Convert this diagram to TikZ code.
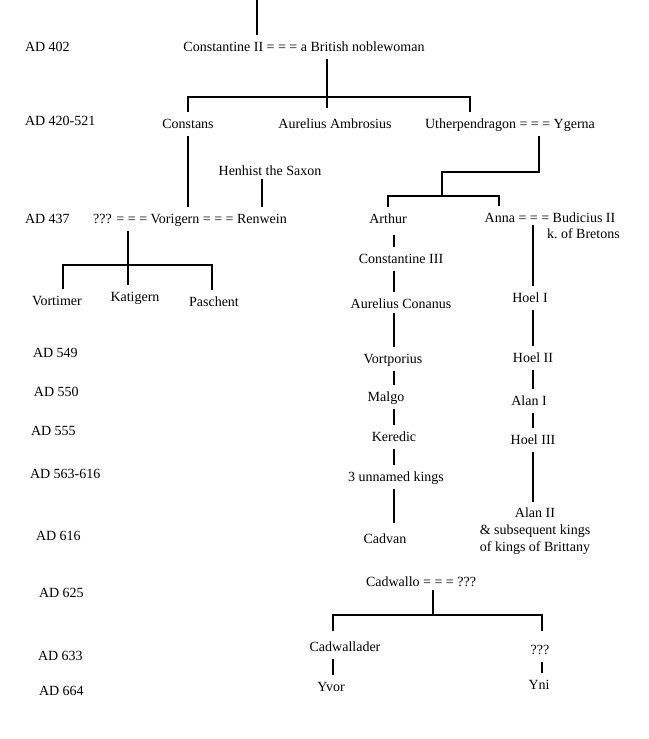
\documentclass[tikz,border=0pt]{standalone}
\usepackage{fontspec}
\setmainfont{Liberation Serif}
\begin{document}
\begin{tikzpicture}[x=1pt,y=-1pt,
  txt/.style={inner sep=0pt, outer sep=0pt, text height=11.5pt, text depth=3pt, minimum height=24pt, font=\fontsize{14}{17}\selectfont},
  datelab/.style={txt, anchor=west},
  multi/.style={inner sep=0pt, outer sep=0pt, align=center, font=\fontsize{14}{17}\selectfont},
  link/.style={draw=black, line width=1.1pt}]
\fill[white] (0,0) rectangle (648,739);
\useasboundingbox (0,0) rectangle (648,739);

% date labels
\node[datelab] (ad402) at (25,47) {AD 402};
\node[datelab] (ad420) at (25,121) {AD 420-521};
\node[datelab] (ad437) at (25,219) {AD 437};
\node[datelab] (ad549) at (33,353) {AD 549};
\node[datelab] (ad550) at (34,392) {AD 550};
\node[datelab] (ad555) at (31,431) {AD 555};
\node[datelab] (ad563) at (30,474) {AD 563-616};
\node[datelab] (ad616) at (36,536) {AD 616};
\node[datelab] (ad625) at (39,593) {AD 625};
\node[datelab] (ad633) at (38,656) {AD 633};
\node[datelab] (ad664) at (39,691) {AD 664};

% people
\node[txt] (c2) at (304,47) {Constantine II = = = a British noblewoman};
\node[txt] (constans) at (188,124) {Constans};
\node[txt] (aurelius) at (335,124) {Aurelius Ambrosius};
\node[txt] (uther) at (510,124) {Utherpendragon = = = Ygerna};
\node[txt] (henhist) at (270,171) {Henhist the Saxon};
\node[txt] (vorigern) at (190,219) {??? = = = Vorigern = = = Renwein};
\node[txt] (arthur) at (388,219) {Arthur};
\node[txt] (anna) at (550,218) {Anna = = = Budicius II};
\node[datelab] (kbretons) at (547,234) {k.\ of Bretons};
\node[txt] (c3) at (401,259) {Constantine III};
\node[txt] (vortimer) at (57,301) {Vortimer};
\node[txt] (katigern) at (135,297) {Katigern};
\node[txt] (paschent) at (214,302) {Paschent};
\node[txt] (conanus) at (401,304) {Aurelius Conanus};
\node[txt] (hoel1) at (530,298) {Hoel I};
\node[txt] (vortporius) at (393,359) {Vortporius};
\node[txt] (hoel2) at (533,358) {Hoel II};
\node[txt] (malgo) at (386,397) {Malgo};
\node[txt] (alan1) at (529,401) {Alan I};
\node[txt] (keredic) at (394,437) {Keredic};
\node[txt] (hoel3) at (533,440) {Hoel III};
\node[txt] (unnamed) at (396,477) {3 unnamed kings};
\node[multi] (alan2) at (535,531) {Alan II\\\& subsequent kings\\of kings of Brittany};
\node[txt] (cadvan) at (385,539) {Cadvan};
\node[txt] (cadwallo) at (421,582) {Cadwallo = = = ???};
\node[txt] (cadwallader) at (345,647) {Cadwallader};
\node[txt] (q3) at (540,650) {???};
\node[txt] (yvor) at (331,687) {Yvor};
\node[txt] (yni) at (539,685) {Yni};

% junction coordinates
\coordinate (topc) at (257,0);
\coordinate (c2j) at (327,97);
\coordinate (c2r) at (470,97);
\coordinate (hx) at (262,0);
\coordinate (yg) at (539,172);
\coordinate (yj) at (442,172);
\coordinate (sib) at (442,196);
\coordinate (ar) at (499,196);
\coordinate (sj) at (128,265);
\coordinate (sl) at (63,265);
\coordinate (sr) at (212,265);
\coordinate (colA) at (394,0);
\coordinate (colB) at (533,0);
\coordinate (cj) at (433,615);
\coordinate (cl) at (333,615);
\coordinate (cr) at (542,615);

% connectors
\draw[link] (topc) -- (topc |- c2.north);
\draw[link, shorten >=4pt] (c2.south -| c2j) -- (c2j |- aurelius.north);
\draw[link] (constans.north) |- (c2r) -- (c2r |- uther.north);
\draw[link] (constans.south) -- (constans.south |- vorigern.north);
\draw[link, shorten <=-4pt] (henhist.south -| hx) -- (hx |- vorigern.north);
\draw[link] (uther.south -| yg) -- (yg) -- (yj) -- (sib);
\draw[link] (arthur.north) |- (ar) -- (ar |- anna.north);
\draw[link] (vorigern.south -| sj) -- (sj |- katigern.north);
\draw[link] (sl |- vortimer.north) -- (sl) -- (sr) -- (sr |- paschent.north);
% Arthur line
\draw[link, shorten <=4pt] (arthur.south -| colA) -- (colA |- c3.north);
\draw[link] (c3.south -| colA) -- (colA |- conanus.north);
\draw[link, shorten <=-3pt] (conanus.south -| colA) -- (colA |- vortporius.north);
\draw[link] (vortporius.south -| colA) -- (colA |- malgo.north);
\draw[link] (malgo.south -| colA) -- (colA |- keredic.north);
\draw[link] (keredic.south -| colA) -- (colA |- unnamed.north);
\draw[link, shorten >=4pt] (unnamed.south -| colA) -- (colA |- cadvan.north);
% Breton line
\draw[link, shorten <=-5pt] (anna.south -| colB) -- (colB |- hoel1.north);
\draw[link] (hoel1.south -| colB) -- (colB |- hoel2.north);
\draw[link] (hoel2.south -| colB) -- (colB |- alan1.north);
\draw[link] (alan1.south -| colB) -- (colB |- hoel3.north);
\draw[link, shorten >=5.5pt] (hoel3.south -| colB) -- (colB |- alan2.north);
% Cadwallo
\draw[link, shorten <=-4pt] (cadwallo.south -| cj) -- (cj);
\draw[link, shorten <=4pt, shorten >=7pt] (cl |- cadwallader.north) -- (cl) -- (cr) -- (cr |- q3.north);
\draw[link] (cadwallader.south -| cl) -- (cl |- yvor.north);
\draw[link] (q3.south -| cr) -- (cr |- yni.north);
\end{tikzpicture}
\end{document}
